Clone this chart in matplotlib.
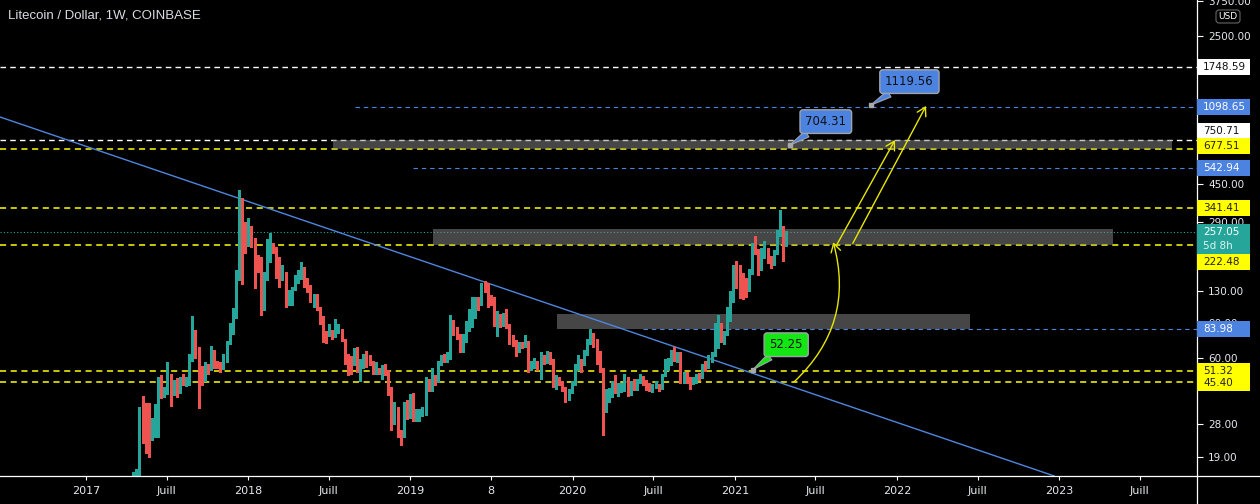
import numpy as np
import pandas as pd
import matplotlib
matplotlib.use("Agg")
import matplotlib.pyplot as plt
import matplotlib.dates as mdates
from matplotlib.patches import Rectangle, FancyBboxPatch
from matplotlib.lines import Line2D
from matplotlib.transforms import IdentityTransform

# LTC/USD weekly candles (Coinbase), first week starts 2017-04-10
first_week = "2017-04-10"

opens = [9.5, 11.9, 14.8,
         15.7, 30.6, 28.6, 25.5, 24.3, 27.5, 33.8, 43.3, 40.5, 40.8,
         48.6, 40.0, 44.6, 40.5, 45.5, 44.3, 45.0, 61.3, 79.0, 66.9,
         50.5, 47.3, 55.0, 53.1, 64.4, 56.3, 55.9, 54.1, 58.0, 70.9,
         86.7, 100.4, 150.7, 326, 274, 222, 269, 235, 190, 188,
         147, 150, 213, 219, 209, 188, 152, 160, 114, 117,
         132, 147, 152, 169, 143, 138, 116, 124, 106, 95,
         80, 79, 82, 77, 82, 83, 74, 59, 57, 56,
         65, 55, 57, 61, 60, 57, 51, 52, 51.5, 53.5,
         51, 42, 29.7, 33, 24.8, 24.5, 32.8, 30.9, 38.5, 29.4,
         30.3, 31.8, 32.8, 46.4, 42.9, 47.3, 46.7, 56.3, 59.6, 58.8,
         60.8, 90.5, 83, 77, 66.2, 74, 84, 95, 111.5, 114,
         113, 137, 135, 121, 117, 89, 99.6, 89, 93, 88.7,
         76, 71, 65, 71, 69, 72, 54, 55, 57, 55,
         60, 57, 63, 58.5, 43.3, 47.3, 45, 42.6, 38, 41,
         45, 54, 58, 56, 63, 73, 75, 73, 58, 52,
         36, 37.5, 39.5, 43.5, 42, 42, 44.5, 45.5, 43, 45,
         43.5, 46.5, 47, 45, 42.5, 41.5, 43.5, 44, 42.5, 49,
         56, 57.5, 62, 60, 61, 47.5, 48.5, 47, 46, 46.5,
         49.5, 48, 55, 54.5, 59, 62, 84, 84, 78.5, 80,
         104, 125, 158, 154, 142, 140, 132, 162, 215, 210,
         166, 200, 205, 185, 178, 203, 254, 272, 224]

highs = [12.2, 15.9, 16.5,
         34.0, 38.5, 35.4, 35.4, 29.7, 35.0, 48.0, 49.0, 43.0, 57.3,
         49.5, 46.5, 47.5, 48.0, 50.0, 48.0, 63.0, 97.0, 82.8, 68.0,
         54.5, 57.0, 56.0, 69.0, 65.5, 58.0, 57.0, 63.0, 73.0, 90.0,
         107, 165, 419, 381, 290, 302, 275, 240, 198, 192,
         163, 237, 254, 228, 216, 194, 176, 162, 132, 137,
         157, 166, 181, 171, 152, 140, 126, 126, 108, 97,
         82, 89, 82.5, 94, 89, 83.5, 74.5, 63, 61, 67,
         68, 59, 63, 65, 62, 58, 57, 53, 55, 56,
         52, 43, 36, 34, 26, 36, 37, 39.5, 40, 33,
         33, 34, 48, 47, 53, 49, 58, 62, 63, 64,
         98, 93, 86, 79, 79, 92, 105, 122, 122, 122,
         142, 146, 142, 124, 122, 103, 100, 101, 106, 89,
         78, 74, 72, 72, 78, 73, 58, 60, 57.5, 64,
         62, 65, 64, 59, 49, 48, 46, 43, 42, 46,
         56, 62, 59, 66, 75, 84, 80, 75, 65, 53,
         42, 42.5, 46, 49, 45, 45, 50, 48, 46, 47,
         47, 50, 48.5, 46.5, 45, 44.5, 46, 44.5, 50, 59,
         60, 66, 68, 64, 64, 51, 51, 48, 48, 50,
         50.5, 56, 58, 62, 64, 90, 98, 90, 82, 108,
         130, 175, 185, 175, 160, 152, 168, 228, 247, 212,
         215, 232, 215, 195, 210, 265, 333, 275, 262]

lows = [9.3, 11.5, 14.5,
        15.5, 22.3, 19.8, 19.0, 23.1, 24.0, 24.0, 37.8, 38.0, 39.5,
        34.5, 39.0, 38.0, 40.0, 43.8, 43.5, 44.0, 58.0, 60.0, 33.4,
        44.0, 46.0, 50.0, 52.0, 53.0, 53.0, 51.0, 52.5, 57.0, 70.0,
        79.0, 95.0, 148, 141, 203, 218, 216, 134, 163, 98,
        104, 147, 181, 203, 152, 137, 148, 108, 111, 111,
        131, 143, 150, 137, 129, 114, 108, 104, 89, 72,
        71, 77, 75, 76, 80, 73, 56, 49, 50, 55,
        51, 46, 53, 54, 55, 50, 50, 50, 47, 49,
        39, 26, 28, 24, 21.8, 24, 29.5, 30, 29, 29,
        29, 30.5, 31, 41, 41, 44, 45.5, 55, 57, 57,
        59, 78, 75, 64, 64, 72, 82, 86, 95, 104,
        110, 129, 108, 111, 87, 77, 86, 87, 85, 70,
        69, 61, 64, 67, 68, 51, 52, 53, 52, 47,
        56, 56.5, 56, 43, 42, 44, 41, 36, 37, 40,
        44, 52, 51, 55, 62, 70, 68, 56, 51, 24.5,
        32, 36, 38, 40, 38.5, 40.5, 41, 38.5, 39, 41.5,
        41.5, 45, 44, 41.5, 41, 40.5, 42.5, 41, 42, 48.5,
        52, 55, 58, 57, 45, 45, 45, 42, 44.5, 45,
        46.5, 47.5, 51.5, 53, 57, 61.5, 67, 72, 70, 78,
        92, 115, 135, 120, 118, 121, 130, 158, 200, 156,
        165, 190, 180, 170, 175, 200, 245, 185, 220]

closes = [11.9, 14.8, 15.7,
          30.6, 28.6, 25.5, 24.3, 27.5, 33.8, 43.3, 40.5, 40.8, 48.6,
          40.0, 44.6, 40.5, 45.5, 44.3, 45.0, 61.3, 79.0, 66.9, 50.5,
          47.3, 55.0, 53.1, 64.4, 56.3, 55.9, 54.1, 58.0, 70.9, 86.7,
          100.4, 150.7, 326, 274, 222, 269, 235, 190, 188, 147,
          150, 213, 219, 209, 188, 152, 160, 114, 117, 132,
          147, 152, 169, 143, 138, 116, 124, 106, 95, 80,
          79, 82, 77, 82, 83, 74, 59, 57, 56, 65,
          55, 57, 61, 60, 57, 51, 52, 51.5, 53.5, 51,
          42, 29.7, 33, 24.8, 24.5, 32.8, 30.9, 38.5, 29.4, 30.3,
          31.8, 32.8, 46.4, 42.9, 47.3, 46.7, 56.3, 59.6, 58.8, 60.8,
          90.5, 83, 77, 66.2, 74, 84, 95, 111.5, 114, 113,
          137, 135, 121, 117, 89, 99.6, 89, 93, 88.7, 76,
          71, 65, 71, 69, 72, 54, 55, 57, 55, 60,
          57, 63, 58.5, 43.3, 47.3, 45, 42.6, 38, 41, 45,
          54, 58, 56, 63, 73, 75, 73, 58, 52, 36,
          37.5, 39.5, 43.5, 42, 42, 44.5, 45.5, 43, 45, 43.5,
          46.5, 47, 45, 42.5, 41.5, 43.5, 44, 42.5, 49, 56,
          57.5, 62, 60, 61, 47.5, 48.5, 47, 46, 46.5, 49.5,
          48, 55, 54.5, 59, 62, 84, 84, 78.5, 80, 104,
          125, 158, 154, 142, 140, 132, 162, 215, 210, 166,
          200, 205, 185, 178, 203, 254, 272, 224, 257.05]

# horizontal levels drawn on the chart
level_prices = [1748.59, 1098.65, 750.71, 677.51, 542.94, 341.41, 257.05, 222.48, 83.98, 51.32, 45.40]
level_kinds = ["white", "blue", "white", "yellow", "blue", "yellow", "price", "yellow", "blue", "yellow", "yellow"]
level_starts = [None, "2018-08-29", None, None, "2019-01-07", None, None, None, "2020-06-07", None, None]

# grey zones
zone_starts = ["2018-07-10", "2019-02-20", "2019-11-26"]
zone_ends = ["2023-09-12", "2023-05-02", "2022-06-14"]
zone_lows = [677.51, 222.48, 83.98]
zone_highs = [750.71, 268.0, 100.0]

# trend line
trend_dates = ["2016-06-21", "2022-12-15"]
trend_prices = [977.0, 15.4]

# callouts
note_dates = ["2021-11-02", "2021-05-04", "2021-02-10"]
note_prices = [1119.56, 704.31, 52.25]
note_texts = ["1119.56", "704.31", "52.25"]

# projection arrows
arrow_from = [("2021-08-18", 222.5), ("2021-09-23", 226.0)]
arrow_to = [("2021-12-27", 748.0), ("2022-03-07", 1111.0)]
curve_from = ("2021-05-14", 45.4)
curve_to = ("2021-08-10", 229.0)

x_tick_dates = ["2017-01-01", "2017-07-01", "2018-01-01", "2018-07-01", "2019-01-01", "2019-07-01",
                "2020-01-01", "2020-07-01", "2021-01-01", "2021-07-01", "2022-01-01", "2022-07-01",
                "2023-01-01", "2023-07-01"]
x_tick_labels = ["2017", "Juill", "2018", "Juill", "2019", "8", "2020", "Juill", "2021", "Juill",
                 "2022", "Juill", "2023", "Juill"]
y_ticks = [19, 28, 60, 90, 130, 290, 450, 2500, 3750]

# right-axis price tags
tag_prices = [1748.59, 1098.65, 750.71, 677.51, 542.94, 341.41, 222.48, 83.98, 51.32, 45.40]
tag_kinds = ["white", "blue", "white", "yellow", "blue", "yellow", "yellow", "blue", "yellow", "yellow"]
tag_shift = [0, 0, -9, -3, 0, 0, 17, 0, 0, 1]   # pixel nudges (label overlap)

UP, DOWN = "#26A69A", "#EF5350"
BLUE = "#4C82E0"
YEL = "#FFFF00"

d2n = lambda s: mdates.datestr2num(s)

dates = pd.date_range(first_week, periods=len(closes), freq="7D")
x = mdates.date2num(dates)
o, h, l, c = map(np.array, (opens, highs, lows, closes))

W, H = 1260, 504
fig = plt.figure(figsize=(W / 100, H / 100), dpi=100, facecolor="black")
ax = fig.add_axes([0, 28 / H, 1197 / W, 476 / H])
ax.set_facecolor("black")
ax.set_yscale("log")
x0, x1 = d2n("2016-06-21"), d2n("2023-11-07")
ax.set_xlim(x0, x1)
ax.set_ylim(15.25, 3790)

# levels
sty = {"white": dict(color="white", lw=1.0, dashes=(4, 3)),
       "yellow": dict(color=YEL, lw=1.1, dashes=(4, 3)),
       "blue": dict(color=BLUE, lw=0.8, dashes=(4, 3.5)),
       "price": dict(color=UP, lw=0.8, dashes=(1, 2))}
for p, k, s in zip(level_prices, level_kinds, level_starts):
    xs = x0 if s is None else d2n(s)
    ax.plot([xs, x1], [p, p], zorder=1, **sty[k])

# zones
for s, e, lo, hi in zip(zone_starts, zone_ends, zone_lows, zone_highs):
    ax.add_patch(Rectangle((d2n(s), lo), d2n(e) - d2n(s), hi - lo, fc="#8c8c8c", alpha=0.5, ec="none", zorder=2))

# trend line
ax.axline((d2n(trend_dates[0]), trend_prices[0]), (d2n(trend_dates[1]), trend_prices[1]),
          color="#4F86DE", lw=1.0, zorder=3)

# candles
col = np.where(c >= o, UP, DOWN)
ax.vlines(x, l, h, colors=col, lw=0.75, zorder=4, antialiased=False)
blo = np.minimum(o, c)
bhi = np.maximum(np.maximum(o, c), blo * 1.008)
ax.bar(x, bhi - blo, bottom=blo, width=4.2, color=col, lw=0, zorder=5, antialiased=False)

# callouts
note_fc = [BLUE, BLUE, "#14E614"]
note_off = [(28, 17), (26, 17), (24, 18)]
for d, p, t, fc, off in zip(note_dates, note_prices, note_texts, note_fc, note_off):
    xd = d2n(d)
    ax.annotate(t, xy=(xd, p), xytext=off, textcoords="offset points", ha="center", va="center",
                fontsize=8.5, color="#111111", zorder=8,
                bbox=dict(boxstyle="round,pad=0.45,rounding_size=0.25", fc=fc, ec="#a0a4aa", lw=1),
                arrowprops=dict(arrowstyle="wedge,tail_width=0.6,shrink_factor=0.5", fc=fc,
                                ec="#a0a4aa", lw=0.8, shrinkA=0, shrinkB=0))
    ax.plot(xd, p, marker="s", ms=3, color="#a8a8a8", zorder=9)

# yellow projection arrows
for (da, pa), (db, pb) in zip(arrow_from, arrow_to):
    ax.annotate("", xy=(d2n(db), pb), xytext=(d2n(da), pa), zorder=7,
                arrowprops=dict(arrowstyle="->,head_length=0.6,head_width=0.35", color="#E8E800",
                                lw=1.0, shrinkA=0, shrinkB=0))
ax.annotate("", xy=(d2n(curve_to[0]), curve_to[1]), xytext=(d2n(curve_from[0]), curve_from[1]), zorder=7,
            arrowprops=dict(arrowstyle="->,head_length=0.6,head_width=0.35", color="#E8E800", lw=1.0,
                            shrinkA=0, shrinkB=0, connectionstyle="arc3,rad=0.3"))

# axes / ticks
for sp in ax.spines.values():
    sp.set_visible(False)
ax.yaxis.tick_right()
ax.set_yticks(y_ticks)
ax.set_yticklabels([f"{v:.2f}" for v in y_ticks])
ax.yaxis.set_minor_locator(plt.NullLocator())
ax.tick_params(axis="y", colors="white", labelcolor="#E6E8EE", labelsize=7.5, length=4, width=0.8, pad=4)
ax.set_xticks([d2n(s) for s in x_tick_dates])
ax.set_xticklabels(x_tick_labels)
ax.xaxis.set_minor_locator(plt.NullLocator())
ax.tick_params(axis="x", colors="white", labelcolor="#E6E8EE", labelsize=8, length=3, width=0.8, pad=4)

fig.add_artist(Line2D([0, 1], [28 / H, 28 / H], transform=fig.transFigure, color="white", lw=0.9))
fig.add_artist(Line2D([1197 / W, 1197 / W], [0, 1], transform=fig.transFigure, color="white", lw=0.9))

# price tags on the right axis
px = IdentityTransform()
tag_bg = {"white": ("white", "#111111"), "yellow": (YEL, "#222222"), "blue": (BLUE, "white")}


def ypix(p):
    return ax.transData.transform((x0, p))[1]


for p, k, sh in zip(tag_prices, tag_kinds, tag_shift):
    yc = ypix(p) - sh
    bg, fg = tag_bg[k]
    fig.add_artist(Rectangle((1197, yc - 8), 53, 16, transform=px, fc=bg, ec="none", zorder=10))
    fig.text(1203, yc, f"{p:.2f}", transform=px, va="center", ha="left", fontsize=7.5, color=fg, zorder=11)

yc = ypix(closes[-1])
fig.add_artist(Rectangle((1197, yc - 22), 53, 30, transform=px, fc=UP, ec="none", zorder=10))
fig.text(1203, yc, f"{closes[-1]:.2f}", transform=px, va="center", ha="left", fontsize=7.5, color="white", zorder=11)
fig.text(1203, yc - 14, "5d 8h", transform=px, va="center", ha="left", fontsize=7.5, color="#DDF3F0", zorder=11)

fig.add_artist(FancyBboxPatch((1216, H - 23), 24, 13, boxstyle="round,pad=0,rounding_size=3",
                              transform=px, fc="black", ec="#666666", lw=0.8, zorder=10))
fig.text(1228, H - 16.5, "USD", transform=px, ha="center", va="center", fontsize=6.5, color="white", zorder=11)

fig.text(8, H - 16, "Litecoin / Dollar, 1W, COINBASE", transform=px, va="center", ha="left",
         fontsize=9.5, color="#D9DCE3", family=["Liberation Sans", "DejaVu Sans"])

fig.savefig("out.png", dpi=100, facecolor="black")
